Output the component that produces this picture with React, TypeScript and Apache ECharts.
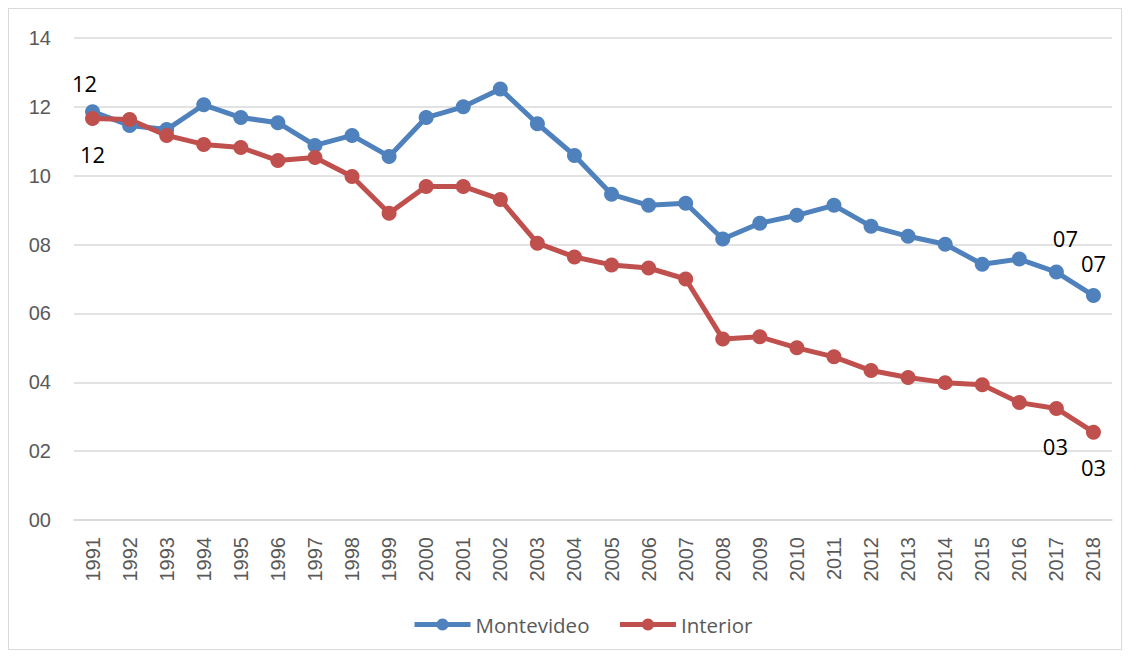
import React, { useEffect, useRef } from "react";
import * as echarts from "echarts";

const years = [
  "1991", "1992", "1993", "1994", "1995", "1996", "1997", "1998", "1999", "2000",
  "2001", "2002", "2003", "2004", "2005", "2006", "2007", "2008", "2009", "2010",
  "2011", "2012", "2013", "2014", "2015", "2016", "2017", "2018",
];
const montevideo = [
  11.86, 11.46, 11.34, 12.06, 11.69, 11.54, 10.88, 11.17, 10.56, 11.69,
  12.0, 12.52, 11.51, 10.59, 9.46, 9.14, 9.2, 8.16, 8.62, 8.85,
  9.14, 8.53, 8.24, 8.01, 7.43, 7.58, 7.2, 6.52,
];
const interior = [
  11.66, 11.63, 11.17, 10.91, 10.82, 10.44, 10.53, 9.98, 8.91, 9.69,
  9.69, 9.31, 8.04, 7.64, 7.41, 7.32, 7.0, 5.26, 5.32, 5.0,
  4.74, 4.34, 4.14, 3.99, 3.93, 3.41, 3.24, 2.55,
];
// indices of points that carry a data label
const montevideoLabelIdx = [0, 26, 27];
const interiorLabelIdx = [0, 26, 27];

const fmt = (v: number) => String(Math.round(v)).padStart(2, "0");

export default function App() {
  const ref = useRef<HTMLDivElement>(null);
  useEffect(() => {
    if (!ref.current) return;
    const chart = echarts.init(ref.current, null, { renderer: "svg" });
    const labelOffsets: Record<string, Record<number, number[]>> = {
      m: { 0: [-8, -29], 26: [9, -34], 27: [0, -33] },
      i: { 0: [0, 35], 26: [-1, 38], 27: [0, 35] },
    };
    const mk = (vals: number[], idx: number[], key: string) =>
      vals.map((v, i) =>
        idx.includes(i)
          ? {
              value: v,
              label: {
                show: true,
                position: "inside",
                offset: labelOffsets[key][i],
                formatter: () => fmt(v),
                color: "#000",
                fontSize: 22,
                fontFamily: "Open Sans, Noto Sans, sans-serif",
              },
            }
          : v
      );
    chart.setOption({
      animation: false,
      backgroundColor: "#fff",
      grid: { left: 65, right: 9, top: 29, bottom: 129, containLabel: false },
      legend: {
        top: 605,
        left: 403,
        padding: 0,
        itemWidth: 56,
        itemHeight: 15,
        itemGap: 28,
        lineStyle: { width: 5 },
        textStyle: { color: "#595959", fontSize: 20.5, fontFamily: "Open Sans, Noto Sans, sans-serif" },
        data: ["Montevideo", "Interior"],
      },
      xAxis: {
        type: "category",
        data: years,
        boundaryGap: true,
        axisLine: { lineStyle: { color: "#d9d9d9", width: 1.5 } },
        axisTick: { show: false },
        axisLabel: {
          rotate: 90,
          interval: 0,
          margin: 17,
          color: "#595959",
          fontSize: 20,
          fontFamily: "Liberation Sans, Arial, sans-serif",
        },
      },
      yAxis: {
        type: "value",
        min: 0,
        max: 14,
        interval: 2,
        axisLine: { show: false },
        axisTick: { show: false },
        splitLine: { lineStyle: { color: "#d9d9d9", width: 1.5 } },
        axisLabel: {
          formatter: (v: number) => fmt(v),
          color: "#595959",
          fontSize: 20,
          margin: 23,
          fontFamily: "Liberation Sans, Arial, sans-serif",
        },
      },
      series: [
        {
          name: "Montevideo",
          type: "line",
          data: mk(montevideo, montevideoLabelIdx, "m"),
          color: "#4f81bd",
          symbol: "circle",
          symbolSize: 15,
          lineStyle: { width: 5, color: "#4f81bd" },
          itemStyle: { color: "#4f81bd" },
        },
        {
          name: "Interior",
          type: "line",
          data: mk(interior, interiorLabelIdx, "i"),
          color: "#c0504d",
          symbol: "circle",
          symbolSize: 15,
          lineStyle: { width: 5, color: "#c0504d" },
          itemStyle: { color: "#c0504d" },
        },
      ],
    });
    return () => chart.dispose();
  }, []);
  return (
    <div
      style={{
        width: 1114,
        height: 642,
        border: "1px solid #d9d9d9",
        boxSizing: "border-box",
        position: "relative",
      }}
    >
      <div ref={ref} style={{ width: "100%", height: "100%" }} />
    </div>
  );
}
